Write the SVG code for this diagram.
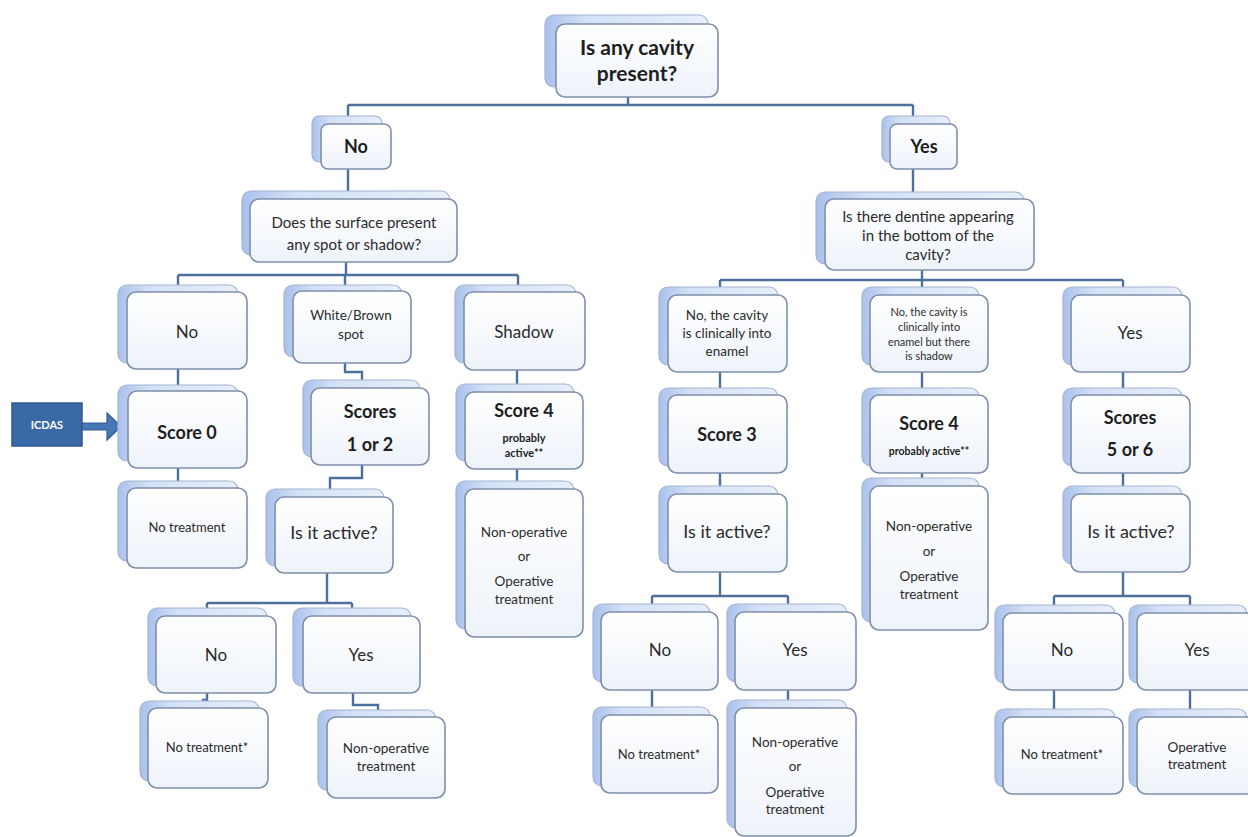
<svg xmlns="http://www.w3.org/2000/svg" width="1248" height="837" viewBox="0 0 1248 837">
<defs>
<linearGradient id="gBack" x1="0" y1="0" x2="1" y2="0">
<stop offset="0" stop-color="#a9c1ec"/>
<stop offset="0.25" stop-color="#d3e0f6"/>
<stop offset="1" stop-color="#e8effa"/>
</linearGradient>
<linearGradient id="gFront" x1="0" y1="0" x2="0" y2="1">
<stop offset="0" stop-color="#ffffff"/>
<stop offset="1" stop-color="#eef3fa"/>
</linearGradient>
<style>
.bk{fill:url(#gBack);stroke:#a3b4d2;stroke-width:1.2}
.fr{fill:url(#gFront);stroke:#7f8fab;stroke-width:1.6}
.t{font-family:Lato,"Open Sans","Liberation Sans",sans-serif;fill:#2b2b2b;text-anchor:middle}
.b{font-weight:bold;fill:#1e1e1e}
.cn{fill:none;stroke:#4c6f9c;stroke-width:2.4}
</style>
</defs>
<rect width="1248" height="837" fill="#ffffff"/>

<g id="connectors">
<path class="cn" d="M628,97 V105 M348,105 H913 M348,105 V124 M913,105 V124"/>
<path class="cn" d="M348,169 V199"/>
<path class="cn" d="M346,262 V275 M178,275 H518 M178,275 V292 M345,275 V292 M518,275 V292"/>
<path class="cn" d="M178,369 V391 M345,363 V372 H362 V388 M517,370 V392"/>
<path class="cn" d="M178,468 V488 M362,465 V478 H330 V497 M517,469 V490"/>
<path class="cn" d="M327,573 V603 M207,603 H352 M207,603 V616 M352,603 V616"/>
<path class="cn" d="M207,693 V700 H203 V708 M353,690 V705 H378 V718"/>
<path class="cn" d="M913,169 V199"/>
<path class="cn" d="M922,270 V280 M720,280 H1123 M720,280 V295 M922,280 V295 M1123,280 V295"/>
<path class="cn" d="M720,372 V395 M922,372 V395 M1123,372 V395"/>
<path class="cn" d="M720,473 V493 M922,473 V486 M1123,473 V493"/>
<path class="cn" d="M720,572 V596 M652,596 H788 M652,596 V612 M788,596 V612"/>
<path class="cn" d="M1123,572 V596 M1054,596 H1190 M1054,596 V612 M1190,596 V612"/>
<path class="cn" d="M652,690 V715 M788,690 V708 M1054,690 V717 M1190,690 V717"/>
</g>

<g id="icdas">
<rect x="12" y="403" width="70" height="43" fill="#3a69a8" stroke="#2f5a92" stroke-width="1.5"/>
<path d="M82,423 H107 V413 L121,426.5 L107,440 V430 H82 Z" fill="#4676b4" stroke="#2f5a92" stroke-width="1.2"/>
<text x="47" y="429" font-family="Lato,'Liberation Sans',sans-serif" font-weight="bold" font-size="11" fill="#ffffff" text-anchor="middle">ICDAS</text>
</g>

<g id="n-root"><rect class="bk" x="545" y="15" width="163" height="72" rx="9"/><rect class="fr" x="556" y="24" width="162" height="73" rx="9"/>
<text class="t b" x="637" y="55" font-size="21">Is any cavity</text><text class="t b" x="637" y="81" font-size="21">present?</text></g>

<g id="n-no1"><rect class="bk" x="312" y="116" width="70" height="46" rx="7"/><rect class="fr" x="321" y="124" width="70" height="45" rx="7"/>
<text class="t b" x="356" y="153" font-size="18">No</text></g>

<g id="n-yes1"><rect class="bk" x="882" y="116" width="68" height="46" rx="7"/><rect class="fr" x="890" y="124" width="67" height="45" rx="7"/>
<text class="t b" x="924" y="153" font-size="18">Yes</text></g>

<g id="n-surface"><rect class="bk" x="242" y="191" width="208" height="64" rx="9"/><rect class="fr" x="250" y="199" width="207" height="63" rx="9"/>
<text class="t" x="354" y="228" font-size="15">Does the surface present</text><text class="t" x="354" y="250" font-size="15">any spot or shadow?</text></g>

<g id="n-dentine"><rect class="bk" x="816" y="192" width="208" height="72" rx="9"/><rect class="fr" x="825" y="199" width="209" height="71" rx="9"/>
<text class="t" x="928" y="222" font-size="15">Is there dentine appearing</text><text class="t" x="928" y="241" font-size="15">in the bottom of the</text><text class="t" x="928" y="260" font-size="15">cavity?</text></g>

<g id="n-r3-no"><rect class="bk" x="118" y="285" width="120" height="78" rx="9"/><rect class="fr" x="127" y="292" width="120" height="77" rx="9"/>
<text class="t" x="187" y="338" font-size="17">No</text></g>

<g id="n-r3-wb"><rect class="bk" x="284" y="285" width="118" height="72" rx="9"/><rect class="fr" x="293" y="291" width="118" height="72" rx="9"/>
<text class="t" x="351" y="320" font-size="13.5">White/Brown</text><text class="t" x="351" y="339" font-size="13.5">spot</text></g>

<g id="n-r3-shadow"><rect class="bk" x="455" y="285" width="121" height="78" rx="9"/><rect class="fr" x="464" y="292" width="121" height="78" rx="9"/>
<text class="t" x="524" y="338" font-size="17">Shadow</text></g>

<g id="n-r3-enamel"><rect class="bk" x="659" y="287" width="119" height="78" rx="9"/><rect class="fr" x="668" y="295" width="119" height="77" rx="9"/>
<text class="t" x="727" y="320" font-size="13.5">No, the cavity</text><text class="t" x="727" y="338" font-size="13.5">is clinically into</text><text class="t" x="727" y="356" font-size="13.5">enamel</text></g>

<g id="n-r3-enamel-shadow"><rect class="bk" x="862" y="287" width="117" height="78" rx="9"/><rect class="fr" x="870" y="295" width="118" height="77" rx="9"/>
<text class="t" x="929" y="316" font-size="11">No, the cavity is</text><text class="t" x="929" y="331" font-size="11">clinically into</text><text class="t" x="929" y="346" font-size="11">enamel but there</text><text class="t" x="929" y="360" font-size="11">is shadow</text></g>

<g id="n-r3-yes"><rect class="bk" x="1063" y="287" width="119" height="78" rx="9"/><rect class="fr" x="1071" y="295" width="119" height="77" rx="9"/>
<text class="t" x="1130" y="339" font-size="17">Yes</text></g>

<g id="n-score0"><rect class="bk" x="118" y="385" width="120" height="76" rx="9"/><rect class="fr" x="128" y="391" width="119" height="77" rx="9"/>
<text class="t b" x="187" y="439" font-size="18">Score 0</text></g>

<g id="n-scores12"><rect class="bk" x="303" y="380" width="117" height="77" rx="9"/><rect class="fr" x="311" y="388" width="118" height="77" rx="9"/>
<text class="t b" x="370" y="418" font-size="18">Scores</text><text class="t b" x="370" y="451" font-size="18">1 or 2</text></g>

<g id="n-score4a"><rect class="bk" x="456" y="384" width="118" height="77" rx="9"/><rect class="fr" x="465" y="392" width="118" height="77" rx="9"/>
<text class="t b" x="524" y="417" font-size="18">Score 4</text><text class="t b" x="524" y="442" font-size="11">probably</text><text class="t b" x="524" y="457" font-size="11">active**</text></g>

<g id="n-score3"><rect class="bk" x="659" y="388" width="119" height="78" rx="9"/><rect class="fr" x="668" y="395" width="119" height="78" rx="9"/>
<text class="t b" x="727" y="441" font-size="18">Score 3</text></g>

<g id="n-score4b"><rect class="bk" x="862" y="388" width="117" height="78" rx="9"/><rect class="fr" x="870" y="395" width="118" height="78" rx="9"/>
<text class="t b" x="929" y="430" font-size="18">Score 4</text><text class="t b" x="929" y="455" font-size="10.5">probably active**</text></g>

<g id="n-scores56"><rect class="bk" x="1063" y="388" width="119" height="78" rx="9"/><rect class="fr" x="1071" y="395" width="119" height="78" rx="9"/>
<text class="t b" x="1130" y="424" font-size="18">Scores</text><text class="t b" x="1130" y="456" font-size="18">5 or 6</text></g>

<g id="n-notreat0"><rect class="bk" x="118" y="481" width="120" height="80" rx="9"/><rect class="fr" x="127" y="488" width="120" height="80" rx="9"/>
<text class="t" x="187" y="532" font-size="13">No treatment</text></g>

<g id="n-active1"><rect class="bk" x="266" y="489" width="118" height="77" rx="9"/><rect class="fr" x="275" y="497" width="118" height="76" rx="9"/>
<text class="t" x="334" y="539" font-size="18">Is it active?</text></g>

<g id="n-nonop-a"><rect class="bk" x="456" y="481" width="118" height="148" rx="9"/><rect class="fr" x="465" y="489" width="118" height="148" rx="9"/>
<text class="t" x="524" y="537" font-size="13.5">Non-operative</text><text class="t" x="524" y="561" font-size="13.5">or</text><text class="t" x="524" y="586" font-size="13.5">Operative</text><text class="t" x="524" y="604" font-size="13.5">treatment</text></g>

<g id="n-active2"><rect class="bk" x="659" y="486" width="119" height="78" rx="9"/><rect class="fr" x="668" y="494" width="119" height="78" rx="9"/>
<text class="t" x="727" y="538" font-size="18">Is it active?</text></g>

<g id="n-nonop-b"><rect class="bk" x="862" y="478" width="117" height="144" rx="9"/><rect class="fr" x="870" y="486" width="118" height="144" rx="9"/>
<text class="t" x="929" y="531" font-size="13.5">Non-operative</text><text class="t" x="929" y="556" font-size="13.5">or</text><text class="t" x="929" y="581" font-size="13.5">Operative</text><text class="t" x="929" y="599" font-size="13.5">treatment</text></g>

<g id="n-active3"><rect class="bk" x="1063" y="486" width="119" height="78" rx="9"/><rect class="fr" x="1071" y="494" width="119" height="78" rx="9"/>
<text class="t" x="1131" y="538" font-size="18">Is it active?</text></g>

<g id="n-no-a1"><rect class="bk" x="148" y="608" width="119" height="78" rx="9"/><rect class="fr" x="156" y="616" width="120" height="77" rx="9"/>
<text class="t" x="216" y="661" font-size="17">No</text></g>

<g id="n-yes-a1"><rect class="bk" x="293" y="608" width="118" height="78" rx="9"/><rect class="fr" x="303" y="616" width="117" height="77" rx="9"/>
<text class="t" x="361" y="661" font-size="17">Yes</text></g>

<g id="n-no-a2"><rect class="bk" x="593" y="604" width="117" height="78" rx="9"/><rect class="fr" x="601" y="612" width="117" height="78" rx="9"/>
<text class="t" x="660" y="656" font-size="17">No</text></g>

<g id="n-yes-a2"><rect class="bk" x="727" y="604" width="120" height="78" rx="9"/><rect class="fr" x="735" y="612" width="121" height="78" rx="9"/>
<text class="t" x="795" y="656" font-size="17">Yes</text></g>

<g id="n-no-a3"><rect class="bk" x="995" y="605" width="120" height="78" rx="9"/><rect class="fr" x="1003" y="613" width="120" height="77" rx="9"/>
<text class="t" x="1062" y="656" font-size="17">No</text></g>

<g id="n-yes-a3"><rect class="bk" x="1129" y="605" width="118" height="78" rx="9"/><rect class="fr" x="1137" y="613" width="118" height="77" rx="9"/>
<text class="t" x="1197" y="656" font-size="17">Yes</text></g>

<g id="n-notreat1"><rect class="bk" x="140" y="701" width="119" height="80" rx="9"/><rect class="fr" x="148" y="708" width="120" height="80" rx="9"/>
<text class="t" x="207" y="752" font-size="13">No treatment*</text></g>

<g id="n-nonop-c"><rect class="bk" x="318" y="710" width="118" height="80" rx="9"/><rect class="fr" x="327" y="717" width="118" height="81" rx="9"/>
<text class="t" x="386" y="753" font-size="13.5">Non-operative</text><text class="t" x="386" y="771" font-size="13.5">treatment</text></g>

<g id="n-notreat2"><rect class="bk" x="593" y="707" width="117" height="79" rx="9"/><rect class="fr" x="601" y="715" width="117" height="78" rx="9"/>
<text class="t" x="659" y="759" font-size="13">No treatment*</text></g>

<g id="n-nonop-d"><rect class="bk" x="727" y="700" width="120" height="128" rx="9"/><rect class="fr" x="735" y="708" width="121" height="128" rx="9"/>
<text class="t" x="795" y="747" font-size="13.5">Non-operative</text><text class="t" x="795" y="771" font-size="13.5">or</text><text class="t" x="795" y="797" font-size="13.5">Operative</text><text class="t" x="795" y="814" font-size="13.5">treatment</text></g>

<g id="n-notreat3"><rect class="bk" x="995" y="709" width="120" height="78" rx="9"/><rect class="fr" x="1003" y="717" width="120" height="77" rx="9"/>
<text class="t" x="1062" y="759" font-size="13">No treatment*</text></g>

<g id="n-op"><rect class="bk" x="1129" y="709" width="118" height="78" rx="9"/><rect class="fr" x="1137" y="717" width="118" height="77" rx="9"/>
<text class="t" x="1197" y="752" font-size="13.5">Operative</text><text class="t" x="1197" y="769" font-size="13.5">treatment</text></g>
</svg>
